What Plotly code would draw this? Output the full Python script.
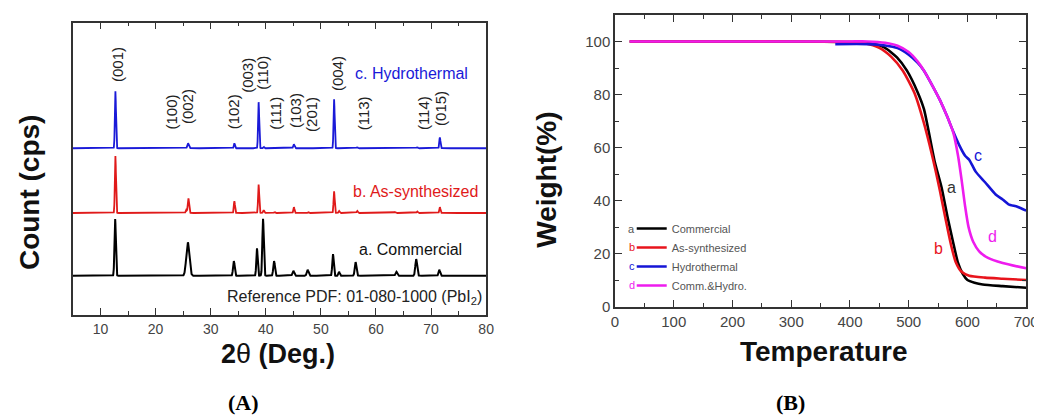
import numpy as np
import plotly.graph_objects as go

W, H = 1042, 416

# ---------------- (A) XRD data: peak tables ----------------
# 2theta positions (deg), heights (arb. units), widths (deg)
hydro_pos = [12.7, 25.9, 34.3, 38.7, 39.6, 45.1, 52.4, 56.6, 67.5, 71.6]
hydro_h   = [58, 5, 5, 47, 1.5, 4, 50, 1, 1, 11]
hydro_w   = [0.10, 0.14, 0.10, 0.10, 0.10, 0.12, 0.10, 0.10, 0.10, 0.10]

synth_pos = [12.7, 25.55, 25.95, 34.3, 38.7, 39.6, 41.6, 45.1, 47.7, 52.4, 53.3, 56.6, 63.5, 67.5, 71.6]
synth_h   = [58, 3, 15, 12, 29, 3, 1, 6, 1, 22, 2, 2, 1, 1.5, 6]
synth_w   = [0.10, 0.10, 0.12, 0.10, 0.10, 0.10, 0.10, 0.10, 0.10, 0.10, 0.10, 0.10, 0.10, 0.10, 0.10]

comm_pos = [12.65, 25.85, 34.2, 38.4, 39.5, 41.5, 45.0, 47.6, 52.2, 53.3, 56.3, 63.7, 67.3, 71.5]
comm_h   = [58, 34, 15, 28, 58, 15, 5, 6, 22, 4, 14, 4, 17, 6]
comm_w   = [0.12, 0.28, 0.14, 0.12, 0.13, 0.14, 0.15, 0.16, 0.13, 0.12, 0.15, 0.15, 0.16, 0.14]

# vertical offsets of the stacked patterns
offset_comm, offset_synth, offset_hydro = 40, 104, 170

hkl_labels = ["(001)", "(100)", "(002)", "(102)", "(003)", "(110)", "(111)",
              "(103)", "(201)", "(004)", "(113)", "(114)", "(015)"]
hkl_x = [13.2, 22.9, 25.7, 34.3, 36.8, 39.5, 41.8, 45.5, 48.4, 53.0, 57.9, 68.75, 71.6]
hkl_y = [255, 207, 212, 207, 244, 247, 206, 208, 204, 246, 206, 206, 211]

# ---------------- (B) TGA data ----------------
comm_T = [25, 100, 200, 300, 400, 435, 459, 480, 497, 515, 526, 544, 556, 566, 575, 584, 592, 600, 612, 626, 660, 700]
comm_W = [100, 100, 100, 100, 99.8, 99.3, 97.7, 94, 89, 81, 74.5, 55, 45, 34, 25, 16.6, 12.5, 10.2, 9.2, 8.5, 7.9, 7.3]

synth_T = [25, 100, 200, 300, 400, 425, 450, 470, 490, 510, 525, 540, 553, 562, 572, 580, 590, 603, 630, 660, 700]
synth_W = [100, 100, 100, 100, 99.8, 99.3, 97.6, 94.3, 89, 80.5, 70, 57, 44, 34, 23.5, 17, 13.3, 11.8, 11.1, 10.7, 10.2]

hydro_T = [375, 430, 460, 481, 500, 515, 526, 540, 553, 565, 576, 586, 596, 603, 614, 630, 648, 660, 670, 685, 700]
hydro_W = [99, 99, 98.5, 97.5, 95, 92, 89, 83.5, 78, 72, 66, 61, 57, 55.5, 51, 47, 42.4, 40.5, 38.7, 37.8, 36.3]

mix_T = [25, 100, 200, 300, 400, 430, 460, 481, 500, 515, 526, 540, 553, 565, 576, 584, 590, 596, 602, 610, 620, 635, 660, 700]
mix_W = [100, 100, 100, 100, 100, 100, 99.5, 98.4, 96, 92.5, 89, 83.5, 78, 72, 65.6, 57, 48, 38, 30, 24.5, 21, 18.5, 16.6, 14.6]

tga_names = ["Commercial", "As-synthesized", "Hydrothermal", "Comm.&Hydro."]
tga_letters = ["a", "b", "c", "d"]
tga_colors = ["#000000", "#e8141c", "#1515d6", "#ee1cee"]
letter_T = [573, 551, 618, 643]
letter_W = [45, 22, 57, 26.5]

# ---------------- build figure ----------------
FONT = "Liberation Sans, Arial, sans-serif"
SERIF = "Liberation Serif, Times New Roman, serif"
AX = "#333333"

two_theta = np.arange(5.0, 80.0001, 0.02)


def pattern(pos, h, w, off):
    y = np.full_like(two_theta, float(off))
    for p, a, s in zip(pos, h, w):
        y += a * np.exp(-0.5 * ((two_theta - p) / s) ** 2)
    return y


fig = go.Figure()
fig.add_trace(go.Scatter(x=two_theta, y=pattern(comm_pos, comm_h, comm_w, offset_comm),
                         mode="lines", line=dict(color="#000000", width=2),
                         showlegend=False, xaxis="x", yaxis="y"))
fig.add_trace(go.Scatter(x=two_theta, y=pattern(synth_pos, synth_h, synth_w, offset_synth),
                         mode="lines", line=dict(color="#e01a1a", width=1.8),
                         showlegend=False, xaxis="x", yaxis="y"))
fig.add_trace(go.Scatter(x=two_theta, y=pattern(hydro_pos, hydro_h, hydro_w, offset_hydro),
                         mode="lines", line=dict(color="#1a1ad8", width=1.8),
                         showlegend=False, xaxis="x", yaxis="y"))

tga = [(comm_T, comm_W), (synth_T, synth_W), (hydro_T, hydro_W), (mix_T, mix_W)]
for (t, wt), name, col in zip(tga, tga_names, tga_colors):
    fig.add_trace(go.Scatter(x=t, y=wt, mode="lines", name=name,
                             line=dict(color=col, width=2.6, shape="spline", smoothing=0.6),
                             xaxis="x2", yaxis="y2"))


def txt(x, y, text, size, color, xref="paper", yref="paper", angle=0, xanchor="center",
        family=FONT):
    return dict(x=x, y=y, xref=xref, yref=yref, text=text, textangle=angle, showarrow=False,
                xanchor=xanchor, yanchor="middle", font=dict(size=size, color=color, family=family))


ann = []
for lab, x, y in zip(hkl_labels, hkl_x, hkl_y):
    ann.append(txt(x, y, lab, 15, "#222", "x", "y", angle=-90))
ann += [
    txt(55.9, 246, "c. Hydrothermal", 16, "#1a1ad8", "x", "y", xanchor="left"),
    txt(55.5, 126, "b. As-synthesized", 16, "#e01a1a", "x", "y", xanchor="left"),
    txt(56.6, 67, "a. Commercial", 16, "#111", "x", "y", xanchor="left"),
    txt(79.6, 18, "Reference PDF: 01-080-1000 (PbI<sub>2</sub>)", 16, "#222", "x", "y", xanchor="right"),
]
for L, t, wv, c in zip(tga_letters, letter_T, letter_W, tga_colors):
    ann.append(txt(t, wv, L, 16, c if L != "a" else "#333", "x2", "y2"))

# axis titles and panel labels
ann += [
    txt(18 / W, 1 - 188 / H, "<b>Count (cps)</b>", 28, "#111", angle=-90),
    txt(270 / W, 1 - 353 / H, "<b>2</b>θ<b> (Deg.)</b>", 27, "#111"),
    txt(544 / W, 1 - 175 / H, "<b>Weight(%)</b>", 28, "#111", angle=-90),
    txt(825 / W, 1 - 350 / H, "<b>Temperature</b>", 28, "#111"),
    txt(235 / W, 1 - 402 / H, "<b>(A)</b>", 22, "#000", family=SERIF),
    txt(791 / W, 1 - 402 / H, "<b>(B)</b>", 22, "#000", family=SERIF),
]
# legend letters
leg_rows = [225, 244, 263, 282]
for L, c, ry in zip(tga_letters, tga_colors, leg_rows):
    ann.append(txt(630 / W, 1 - ry / H, L, 11, c if L != "a" else "#555"))

axis_common = dict(showline=True, linecolor=AX, linewidth=1.5, mirror="ticks", showgrid=False,
                   zeroline=False, ticks="inside", tickcolor=AX, tickwidth=1.3, ticklen=7)

fig.update_layout(
    width=W, height=H, margin=dict(l=0, r=0, t=0, b=0),
    paper_bgcolor="white", plot_bgcolor="white",
    font=dict(family=FONT),
    xaxis=dict(domain=[62 / W, 482 / W], range=[5, 80], tick0=0, dtick=10, anchor="y",
               minor=dict(tick0=0, dtick=5, ticks="inside", ticklen=4, tickcolor=AX, tickwidth=1.2),
               tickfont=dict(size=14, color="#444", family=FONT), **axis_common),
    yaxis=dict(domain=[1 - 313 / H, 1 - 15 / H], range=[0, 298], anchor="x", showticklabels=False,
               ticks="", showline=True, linecolor=AX, linewidth=1.5, mirror=True,
               showgrid=False, zeroline=False),
    xaxis2=dict(domain=[613 / W, 1031 / W], range=[0, 700], tick0=0, dtick=100, anchor="y2",
                minor=dict(tick0=0, dtick=50, ticks="inside", ticklen=4, tickcolor=AX, tickwidth=1.2),
                tickfont=dict(size=15, color="#444", family=FONT), **axis_common),
    yaxis2=dict(domain=[1 - 305 / H, 1 - 7 / H], range=[0, 110], tick0=0, dtick=20, anchor="x2",
                minor=dict(tick0=0, dtick=10, ticks="inside", ticklen=4, tickcolor=AX, tickwidth=1.2),
                tickfont=dict(size=15, color="#444", family=FONT), **axis_common),
    legend=dict(x=630 / W, y=1 - 210 / H, xanchor="left", yanchor="top", bgcolor="rgba(0,0,0,0)",
                font=dict(size=11, color="#555", family=FONT), itemwidth=30, tracegroupgap=0),
    annotations=ann,
)

fig.write_html("out.html")
